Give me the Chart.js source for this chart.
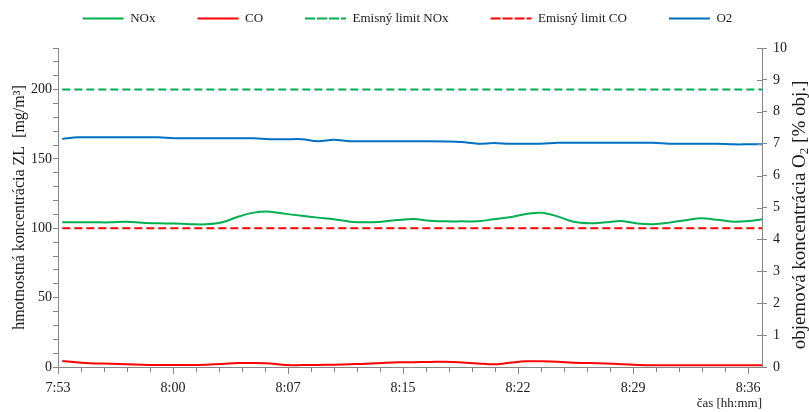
<!DOCTYPE html>
<html><head><meta charset="utf-8">
<script src="https://cdn.jsdelivr.net/npm/chart.js@4.4.1/dist/chart.umd.min.js"></script>
<style>html,body{margin:0;padding:0;background:#fff}#wrap{width:809px;height:412px;position:relative}</style>
</head><body><div id="wrap"><canvas id="c"></canvas></div>
<script>
// time of each sample, minutes after the axis start (7:53:28)
const sampleMinutes = [0.27,1.27,2.27,3.27,4.27,5.27,6.27,7.27,8.27,9.27,10.27,11.27,12.27,13.27,14.27,15.27,16.27,17.27,18.27,19.27,20.27,21.27,22.27,23.27,24.27,25.27,26.27,27.27,28.27,29.27,30.27,31.27,32.27,33.27,34.27,35.27,36.27,37.27,38.27,39.27,40.27,41.27,42.27,43.27,44.27];
const noxValues = [104.3,104.3,104.3,104.3,104.8,104.0,103.6,103.4,103.0,102.9,104.3,108.3,111.3,112.0,110.4,109.0,107.7,106.5,104.8,104.3,104.8,106.0,106.7,105.5,105.0,105.0,105.0,106.5,107.9,110.3,111.2,108.6,104.7,103.6,104.3,105.3,103.4,102.9,104.1,105.8,107.2,106.1,104.8,105.3,106.8];
const coValues = [4.3,3.2,2.6,2.4,2.0,1.6,1.4,1.4,1.4,1.7,2.2,2.8,2.9,2.6,1.4,1.4,1.5,1.7,2.0,2.3,2.9,3.4,3.5,3.6,3.8,3.3,2.6,1.9,3.0,4.1,4.1,3.8,3.1,2.9,2.5,2.0,1.5,1.2,1.2,1.2,1.2,1.2,1.2,1.2,1.2];
const o2Values = [7.15,7.2,7.2,7.2,7.2,7.2,7.2,7.17,7.17,7.17,7.17,7.17,7.17,7.14,7.14,7.14,7.08,7.12,7.08,7.08,7.08,7.08,7.08,7.08,7.07,7.05,7.0,7.02,7.0,7.0,7.0,7.03,7.03,7.03,7.03,7.03,7.03,7.03,7.0,7.0,7.0,7.0,6.98,6.98,6.98];
const limitNox = 200;
const limitCo = 100;
const timeTickLabels = ['7:53','8:00','8:07','8:15','8:22','8:29','8:36'];
const seriesNames = ['NOx','CO','Emisný limit NOx','Emisný limit CO','O2'];

const SERIF = '"Liberation Serif", "Times New Roman", serif';
const AXIS = '#868686';
const TXT = '#1a1a1a';

const pts = vals => sampleMinutes.map((m, i) => ({x: m, y: vals[i]}));
const flat = v => sampleMinutes.map(m => ({x: m, y: v}));

const tweaks = {
  id: 'tweaks',
  beforeLayout(chart) {
    const lg = chart.legend;
    if (lg && !lg._patched) {
      const fit = lg.fit.bind(lg);
      lg.fit = function () { fit(); this.height = 48; };
      lg._patched = true;
    }
  },
  afterLayout(chart) {
    const lg = chart.legend;
    if (lg) { lg.top = -30; lg.bottom = 48; lg.left += 3; lg.right += 3; }
  },
  afterDraw(chart) {
    const ctx = chart.ctx;
    const ca = chart.chartArea;
    ctx.save();
    ctx.strokeStyle = AXIS; ctx.lineWidth = 1;
    // inward half of right-axis ticks
    const r = chart.scales.y1;
    r.ticks.forEach(t => {
      const y = Math.round(r.getPixelForValue(t.value)) + 0.5;
      ctx.beginPath(); ctx.moveTo(ca.right - 5, y); ctx.lineTo(ca.right, y); ctx.stroke();
    });
    // longer major ticks on x
    const xs = chart.scales.x;
    xs.ticks.forEach((t, i) => {
      if (i % 5 !== 0) return;
      const x = Math.round(xs.getPixelForValue(t.value)) + 0.5;
      ctx.beginPath(); ctx.moveTo(x, ca.bottom); ctx.lineTo(x, ca.bottom + 7); ctx.stroke();
    });
    // right axis title with subscript
    ctx.fillStyle = TXT;
    ctx.textBaseline = 'middle';
    const f = '19px ' + SERIF, fs = '13px ' + SERIF;
    const parts = [['objemová koncentrácia O', f, 0], ['2', fs, 5], [' [% obj.]', f, 0]];
    let total = 0;
    parts.forEach(p => { ctx.font = p[1]; total += ctx.measureText(p[0]).width; });
    ctx.translate(800, 215);
    ctx.rotate(-Math.PI / 2);
    let x = -total / 2;
    ctx.textAlign = 'left';
    parts.forEach(p => { ctx.font = p[1]; ctx.fillText(p[0], x, p[2]); x += ctx.measureText(p[0]).width; });
    ctx.restore();
  }
};

const ds = (label, data, color, axis, dash) => ({
  label, data, borderColor: color, backgroundColor: color, yAxisID: axis,
  borderWidth: 2, pointRadius: 0, tension: dash ? 0 : 0.35, borderDash: dash || [],
  borderCapStyle: 'butt'
});

new Chart(document.getElementById('c'), {
  type: 'line',
  data: {
    datasets: [
      ds(seriesNames[0], pts(noxValues), '#00B050', 'y'),
      ds(seriesNames[1], pts(coValues), '#FF0000', 'y'),
      ds(seriesNames[2], flat(limitNox), '#00B050', 'y', [8, 4]),
      ds(seriesNames[3], flat(limitCo), '#FF0000', 'y', [8, 4]),
      ds(seriesNames[4], pts(o2Values), '#0070C0', 'y1')
    ]
  },
  options: {
    responsive: true, maintainAspectRatio: false, animation: false,
    layout: {padding: 0},
    plugins: {
      legend: {
        position: 'top', align: 'center',
        labels: {boxWidth: 41, boxHeight: 0, padding: 42, color: TXT, font: {family: SERIF, size: 13}}
      },
      tooltip: {enabled: false}
    },
    scales: {
      x: {
        type: 'linear', min: 0, max: 44.07,
        afterFit: s => { s.height = 45; },
        grid: {drawOnChartArea: false, tickLength: 5, color: AXIS, tickColor: AXIS},
        border: {display: true, color: AXIS, width: 1},
        ticks: {
          stepSize: 1.44, includeBounds: false, autoSkip: false, maxRotation: 0, padding: 8,
          color: TXT, font: {family: SERIF, size: 14},
          callback: (v, i) => (i % 5 === 0 ? (timeTickLabels[i / 5] || '') : '')
        },
        title: {display: true, text: 'čas [hh:mm]', align: 'end', color: TXT,
                font: {family: SERIF, size: 13}, padding: {top: 0, bottom: 1}}
      },
      y: {
        position: 'left', min: 0, max: 230,
        afterFit: s => { s.width = 58; },
        grid: {drawOnChartArea: false, tickLength: 5, color: AXIS, tickColor: AXIS},
        border: {display: true, color: AXIS, width: 1},
        ticks: {stepSize: 10, autoSkip: false, padding: 1, color: TXT, font: {family: SERIF, size: 14},
                callback: v => (v % 50 === 0 ? String(v) : '')},
        title: {display: true, text: 'hmotnostná koncentrácia ZL  [mg/m³]', color: TXT,
                font: {family: SERIF, size: 16}, padding: {top: 10, bottom: 0}}
      },
      y1: {
        position: 'right', min: 0, max: 10,
        afterFit: s => { s.width = 47; },
        grid: {drawOnChartArea: false, tickLength: 5, color: AXIS, tickColor: AXIS},
        border: {display: true, color: AXIS, width: 1},
        ticks: {stepSize: 1, autoSkip: false, padding: 6, color: TXT, font: {family: SERIF, size: 14}}
      }
    }
  },
  plugins: [tweaks]
});
</script></body></html>
